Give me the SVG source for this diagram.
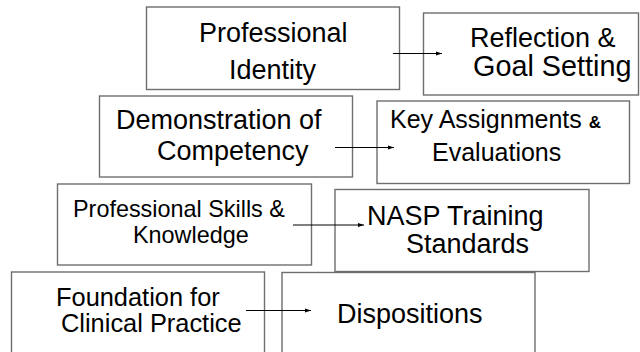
<svg xmlns="http://www.w3.org/2000/svg" width="640" height="352" viewBox="0 0 640 352">
<defs>
<style>
.box{fill:none;stroke:#6e6e6e;stroke-width:1.4}
.t{font-family:"Liberation Sans",Arial,sans-serif;fill:#000}
.conn{stroke:#000;stroke-width:1;fill:none}
</style>
<marker id="ah" viewBox="0 0 10 10" refX="10" refY="5" markerWidth="6" markerHeight="6" markerUnits="userSpaceOnUse" orient="auto">
<path d="M0,1.5 L10,5 L0,8.5 z" fill="#000"/>
</marker>
</defs>
<rect width="640" height="352" fill="#fff"/>
<g id="n-identity">
<rect class="box" x="146.5" y="7" width="253" height="82.5"/>
<text class="t" x="199" y="42" font-size="27">Professional</text>
<text class="t" x="229" y="78.5" font-size="27">Identity</text>
</g>
<g id="n-reflection">
<rect class="box" x="423.5" y="13" width="215" height="82"/>
<text class="t" x="470" y="47" font-size="27">Reflection &amp;</text>
<text class="t" x="473" y="76" font-size="28.8">Goal Setting</text>
</g>
<g id="n-demonstration">
<rect class="box" x="99.5" y="96" width="253" height="81"/>
<text class="t" x="116" y="129" font-size="27">Demonstration of</text>
<text class="t" x="157" y="160" font-size="27">Competency</text>
</g>
<g id="n-key">
<rect class="box" x="377" y="101" width="252.5" height="82.5"/>
<text class="t" x="390" y="128" font-size="25">Key Assignments <tspan font-size="17" font-weight="bold">&amp;</tspan></text>
<text class="t" x="432" y="161" font-size="25">Evaluations</text>
</g>
<g id="n-skills">
<rect class="box" x="57.5" y="184" width="254" height="81"/>
<text class="t" x="73" y="216.5" font-size="23.4">Professional Skills &amp;</text>
<text class="t" x="133" y="243" font-size="23.4">Knowledge</text>
</g>
<g id="n-nasp">
<rect class="box" x="335" y="189.5" width="254" height="82"/>
<text class="t" x="367" y="225" font-size="27">NASP Training</text>
<text class="t" x="406" y="253" font-size="27">Standards</text>
</g>
<g id="n-foundation">
<rect class="box" x="11.5" y="272" width="253" height="100"/>
<text class="t" x="56" y="305.5" font-size="25.4">Foundation for</text>
<text class="t" x="61" y="331.5" font-size="25.4">Clinical Practice</text>
</g>
<g id="n-dispositions">
<rect class="box" x="282" y="272.5" width="253" height="100"/>
<text class="t" x="337" y="323" font-size="27">Dispositions</text>
</g>
<g id="connectors">
<line class="conn" x1="393" y1="53.5" x2="442" y2="53.5" marker-end="url(#ah)"/>
<line class="conn" x1="335" y1="147.5" x2="394" y2="147.5" marker-end="url(#ah)"/>
<line class="conn" x1="293" y1="225" x2="364" y2="225" marker-end="url(#ah)"/>
<line class="conn" x1="246" y1="310.5" x2="311" y2="310.5" marker-end="url(#ah)"/>
</g>
</svg>
